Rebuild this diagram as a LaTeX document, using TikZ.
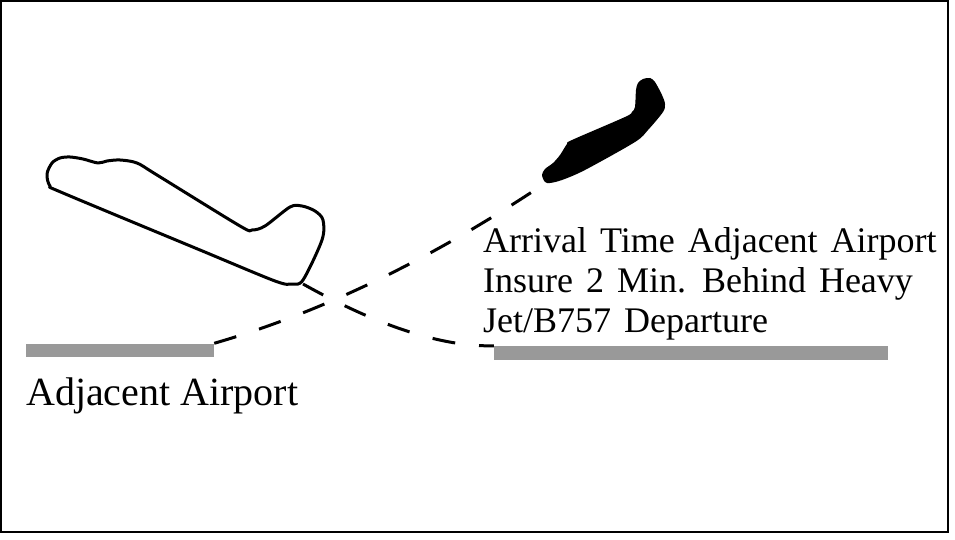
\documentclass[tikz,border=0pt]{standalone}
\usepackage{fontspec}
\setmainfont{Liberation Serif}

\begin{document}
\begin{tikzpicture}[x=1pt,y=-1pt,
  runway/.style={fill=black!40, inner sep=0pt, minimum height=13pt},
  wake/.style={line width=3pt, dash pattern=on 23pt off 24pt},
  hull/.style={line width=3pt, line join=round},
  caption/.style={inner sep=0pt, anchor=base west, font=\fontsize{36}{40}\selectfont}]
  \useasboundingbox (0,0) rectangle (955,540);
  \draw[line width=2pt] (1,1) rectangle (948,532);

  % 跑道
  \node[runway, minimum width=188pt] (adjrwy) at (120,350) {};
  \node[runway, minimum width=394pt, minimum height=14pt] (deprwy) at (691,353) {};

  % 飞机
  \draw[hull] plot[smooth cycle, tension=0.5] coordinates {(47,174) (52,163) (60,158) (70,157) (83,159) (98,163) (107,161) (120,160) (137,163) (157,175) (240,226) (252,230) (265,226) (290,207) (302,206) (315,211) (323,220) (322,240) (303,280) (292,284) (275,281) (200,250) (63,193) (50,186)};
  \fill plot[smooth cycle, tension=0.5] coordinates {(545,182) (550,183) (562,180) (585,170) (635,142) (648,130) (663,112) (665,104) (662,95) (655,82) (650,78) (643,79) (638,83) (636,90) (635,107) (632,112) (625,117) (572,140) (567,144) (560,155) (553,163) (545,169) (542,175)};
  \coordinate (jetnose) at (541,186);
  \coordinate (tailfoot) at (303,284);

  % 尾流
  \draw[wake] (adjrwy.north east) .. controls (319,313) and (428,261) .. (jetnose);
  \draw[wake] (tailfoot) .. controls (378,326) and (442,347) .. (deprwy.north west);

  \foreach \txt [count=\i from 0] in {Arrival Time Adjacent Airport, Insure 2 Min. Behind Heavy, Jet/B757 Departure}
    \node[caption] (note\i) at (483,{252+40*\i}) {\spaceskip=.36em\relax\txt};

  \node[caption, font=\fontsize{40}{44}\selectfont] (adjname) at (26,405) {Adjacent Airport};
\end{tikzpicture}
\end{document}
